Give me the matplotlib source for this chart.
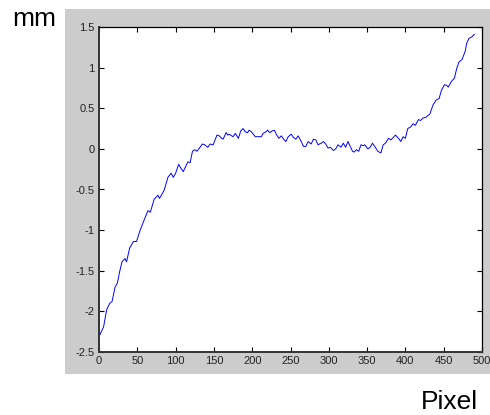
import numpy as np
import matplotlib
matplotlib.use("Agg")
import matplotlib.pyplot as plt
from matplotlib.patches import Rectangle

# profile height (mm) along the scan line (pixel index)
pixel = [0, 6, 10, 14, 17, 21, 24, 27, 30, 34, 36, 40, 45, 49, 53, 60, 64, 67, 72, 77,
         79, 85, 90, 94, 97, 100, 104, 107, 110, 116, 119, 122, 125, 128, 135, 138, 142, 145, 149, 154,
         157, 160, 162, 166, 168, 170, 175, 178, 182, 185, 188, 191, 194, 196, 199, 204, 208, 212, 214, 218,
         220, 223, 226, 229, 232, 235, 238, 241, 244, 247, 251, 254, 257, 260, 264, 267, 270, 273, 277, 280,
         283, 286, 290, 293, 296, 299, 302, 306, 309, 312, 316, 319, 322, 325, 328, 331, 333, 336, 339, 342,
         345, 347, 351, 354, 357, 360, 364, 368, 371, 374, 378, 381, 384, 387, 391, 394, 397, 400, 403, 407,
         410, 413, 417, 420, 423, 427, 432, 436, 440, 444, 447, 451, 454, 456, 460, 464, 467, 470, 474, 478,
         480, 483, 487, 490]
height = [-2.31, -2.19, -1.98, -1.90, -1.88, -1.70, -1.65, -1.51, -1.39, -1.35, -1.39, -1.22, -1.14, -1.14, -1.02, -0.85, -0.76, -0.78, -0.62, -0.57,
          -0.61, -0.51, -0.35, -0.30, -0.35, -0.30, -0.19, -0.24, -0.28, -0.16, -0.17, -0.03, -0.01, -0.03, 0.06, 0.05, 0.02, 0.06, 0.05, 0.17,
          0.16, 0.13, 0.12, 0.20, 0.17, 0.18, 0.15, 0.19, 0.13, 0.22, 0.25, 0.21, 0.20, 0.23, 0.21, 0.15, 0.15, 0.15, 0.19, 0.21,
          0.23, 0.20, 0.22, 0.23, 0.17, 0.13, 0.16, 0.12, 0.09, 0.15, 0.18, 0.14, 0.12, 0.16, 0.09, 0.03, 0.03, 0.09, 0.06, 0.12,
          0.11, 0.05, 0.07, 0.09, 0.06, 0.01, 0.02, -0.02, 0.00, 0.05, 0.02, 0.07, 0.02, 0.09, 0.03, -0.03, -0.04, -0.01, -0.03, 0.05,
          0.04, 0.05, 0.00, 0.02, 0.07, 0.03, -0.03, -0.05, 0.05, 0.07, 0.13, 0.11, 0.14, 0.17, 0.13, 0.09, 0.15, 0.13, 0.25, 0.27,
          0.31, 0.29, 0.36, 0.35, 0.38, 0.39, 0.43, 0.54, 0.60, 0.62, 0.72, 0.79, 0.78, 0.76, 0.83, 0.87, 0.99, 1.07, 1.10, 1.20,
          1.30, 1.36, 1.38, 1.41]

xticks = [0, 50, 100, 150, 200, 250, 300, 350, 400, 450, 500]
yticks = [-2.5, -2, -1.5, -1, -0.5, 0, 0.5, 1, 1.5]
ylabels = ['-2.5', '-2', '-1.5', '-1', '-0.5', '0', '0.5', '1', '1.5']

plt.rcParams['font.family'] = ['Liberation Sans', 'DejaVu Sans']

fig = plt.figure(figsize=(4.9, 4.15), dpi=100)
fig.patch.set_facecolor('white')

# grey figure panel behind the axes
fig.patches.append(Rectangle((65/490, 1-374/415), (490-65)/490, (374-9)/415,
                             transform=fig.transFigure, facecolor='#cccccc',
                             edgecolor='none', zorder=-1))

ax = fig.add_axes([99/490, 1-352/415, (482-99)/490, (352-27)/415])
ax.set_zorder(1)
ax.set_facecolor('white')
ax.plot(pixel, height, color='#0000ff', lw=0.7)

ax.set_xlim(0, 500)
ax.set_ylim(-2.5, 1.5)
ax.set_xticks(xticks)
ax.set_xticklabels([str(t) for t in xticks])
ax.set_yticks(yticks)
ax.set_yticklabels(ylabels)
ax.tick_params(direction='in', length=3.5, width=0.8, top=True, right=True,
               labelsize=8, labelcolor='#222222', pad=3)

for side in ['top', 'right']:
    ax.spines[side].set_color('black')
    ax.spines[side].set_linewidth(0.9)
for side in ['left', 'bottom']:
    ax.spines[side].set_color('#333333')
    ax.spines[side].set_linewidth(1.4)

fig.text(12/490, 1-26/415, 'mm', fontsize=19, va='baseline', ha='left')
fig.text(421/490, 1-409/415, 'Pixel', fontsize=19, va='baseline', ha='left')

fig.savefig('out.png', dpi=100)
